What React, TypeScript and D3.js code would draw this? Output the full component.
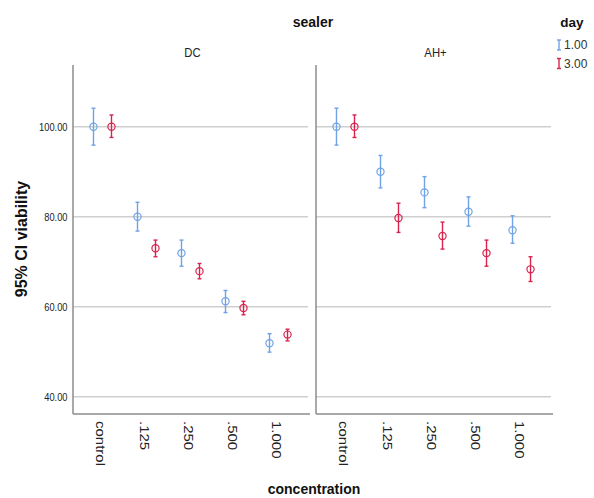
import { useEffect, useRef } from 'react';
import * as d3 from 'd3';

const concentrations = ['control', '.125', '.250', '.500', '1.000'];
const sealers = ['DC', 'AH+'];
const days = ['1.00', '3.00'];
const yTicks = [40, 60, 80, 100];

// mean, lower, upper per concentration
const dcDay1 = [[100, 95.9, 104.1], [80.0, 76.8, 83.2], [71.9, 69.0, 74.8], [61.2, 58.7, 63.6], [51.9, 49.9, 54.0]];
const dcDay3 = [[100, 97.6, 102.6], [73.0, 71.1, 74.8], [67.9, 66.2, 69.6], [59.7, 58.2, 61.2], [53.8, 52.4, 55.0]];
const ahDay1 = [[100, 95.9, 104.1], [90.0, 86.4, 93.6], [85.4, 82.0, 88.9], [81.1, 77.9, 84.4], [77.0, 74.1, 80.2]];
const ahDay3 = [[100, 97.6, 102.6], [79.7, 76.5, 83.0], [75.7, 72.8, 78.8], [71.9, 69.0, 74.8], [68.3, 65.6, 71.1]];

const seriesBySealer = [[dcDay1, dcDay3], [ahDay1, ahDay3]];
const colors = ['#70a3e6', '#d9234f'];

function App() {
  const ref = useRef<SVGSVGElement>(null);

  useEffect(() => {
    const svg = d3.select(ref.current);
    svg.selectAll('*').remove();

    const font = 'Liberation Sans, Arial, sans-serif';
    const top = 65, bottom = 414;
    const panelW = 235;
    const panelX = [73, 316];

    const y = d3.scaleLinear().domain([36.16, 113.7]).range([bottom, top]);
    const x = d3.scalePoint().domain(concentrations).range([0, panelW]).padding(0.67);
    const dodge = d3.scalePoint().domain(days).range([-9, 9]);

    sealers.forEach((s, si) => {
      const g = svg.append('g').attr('transform', `translate(${panelX[si]},0)`);

      g.selectAll('line.grid')
        .data(yTicks)
        .enter()
        .append('line')
        .attr('x1', 0)
        .attr('x2', panelW)
        .attr('y1', d => y(d))
        .attr('y2', d => y(d))
        .attr('stroke', '#cfcfcf')
        .attr('stroke-width', 1.5);

      g.append('line')
        .attr('x1', 0).attr('x2', 0)
        .attr('y1', top).attr('y2', bottom)
        .attr('stroke', '#8c8c8c').attr('stroke-width', 1.5);
      g.append('line')
        .attr('x1', 0).attr('x2', panelW + 2)
        .attr('y1', bottom).attr('y2', bottom)
        .attr('stroke', '#8c8c8c').attr('stroke-width', 1.5);

      g.append('text')
        .attr('transform', `translate(${panelW / 2 + 2},57) scale(1,1.2)`)
        .attr('text-anchor', 'middle')
        .attr('font-family', font)
        .attr('font-size', 11.3)
        .attr('fill', '#222')
        .text(s);

      g.selectAll('text.xlab')
        .data(concentrations)
        .enter()
        .append('text')
        .attr('transform', d => `translate(${(x(d) as number) - 3},421) scale(1,1.25) rotate(90)`)
        .attr('dominant-baseline', 'central')
        .attr('font-family', font)
        .attr('font-size', 12)
        .attr('fill', '#222')
        .text(d => d);

      seriesBySealer[si].forEach((series, di) => {
        const c = colors[di];
        const pts = g.append('g')
          .selectAll('g')
          .data(series)
          .enter()
          .append('g')
          .attr('transform', (d, i) => `translate(${(x(concentrations[i]) as number) + (dodge(days[di]) as number)},0)`);

        pts.append('line')
          .attr('x1', 0).attr('x2', 0)
          .attr('y1', d => y(d[1])).attr('y2', d => y(d[2]))
          .attr('stroke', c).attr('stroke-width', 1.4);
        pts.append('line')
          .attr('x1', -2).attr('x2', 2)
          .attr('y1', d => y(d[1])).attr('y2', d => y(d[1]))
          .attr('stroke', c).attr('stroke-width', 1.4);
        pts.append('line')
          .attr('x1', -2).attr('x2', 2)
          .attr('y1', d => y(d[2])).attr('y2', d => y(d[2]))
          .attr('stroke', c).attr('stroke-width', 1.4);
        pts.append('circle')
          .attr('cx', 0)
          .attr('cy', d => y(d[0]))
          .attr('r', 3.6)
          .attr('fill', 'none')
          .attr('stroke', c)
          .attr('stroke-width', 1.2);
      });
    });

    svg.selectAll('text.ytick')
      .data(yTicks)
      .enter()
      .append('text')
      .attr('transform', d => `translate(67.5,${y(d)}) scale(1,1.25)`)
      .attr('text-anchor', 'end')
      .attr('dominant-baseline', 'central')
      .attr('font-family', font)
      .attr('font-size', 9.3)
      .attr('fill', '#222')
      .text(d => d3.format('.2f')(d));

    svg.append('text')
      .attr('transform', 'translate(21,239) rotate(-90)')
      .attr('text-anchor', 'middle')
      .attr('dominant-baseline', 'central')
      .attr('font-family', font)
      .attr('font-weight', 'bold')
      .attr('font-size', 16)
      .attr('fill', '#111')
      .text('95% CI viability');

    svg.append('text')
      .attr('x', 314).attr('y', 494)
      .attr('text-anchor', 'middle')
      .attr('font-family', font)
      .attr('font-weight', 'bold')
      .attr('font-size', 14)
      .attr('fill', '#111')
      .text('concentration');

    svg.append('text')
      .attr('x', 313).attr('y', 27)
      .attr('text-anchor', 'middle')
      .attr('font-family', font)
      .attr('font-weight', 'bold')
      .attr('font-size', 14)
      .attr('fill', '#111')
      .text('sealer');

    svg.append('text')
      .attr('x', 572).attr('y', 27)
      .attr('text-anchor', 'middle')
      .attr('font-family', font)
      .attr('font-weight', 'bold')
      .attr('font-size', 13.5)
      .attr('fill', '#111')
      .text('day');

    const leg = svg.selectAll('g.leg')
      .data(days)
      .enter()
      .append('g')
      .attr('transform', (d, i) => `translate(559,${45 + i * 18.5})`);
    leg.append('line')
      .attr('x1', 0).attr('x2', 0).attr('y1', -5).attr('y2', 5)
      .attr('stroke', (d, i) => colors[i]).attr('stroke-width', 1.4);
    leg.append('line')
      .attr('x1', -2).attr('x2', 2).attr('y1', -5).attr('y2', -5)
      .attr('stroke', (d, i) => colors[i]).attr('stroke-width', 1.4);
    leg.append('line')
      .attr('x1', -2).attr('x2', 2).attr('y1', 5).attr('y2', 5)
      .attr('stroke', (d, i) => colors[i]).attr('stroke-width', 1.4);
    leg.append('text')
      .attr('transform', 'translate(5,0) scale(1,1.1)')
      .attr('dominant-baseline', 'central')
      .attr('font-family', font)
      .attr('font-size', 12)
      .attr('fill', '#333')
      .text(d => d);
  }, []);

  return (
    <svg ref={ref} width={594} height={498} style={{ position: 'absolute', left: 0, top: 0, background: '#fff' }}>
    </svg>
  );
}

export default App;
